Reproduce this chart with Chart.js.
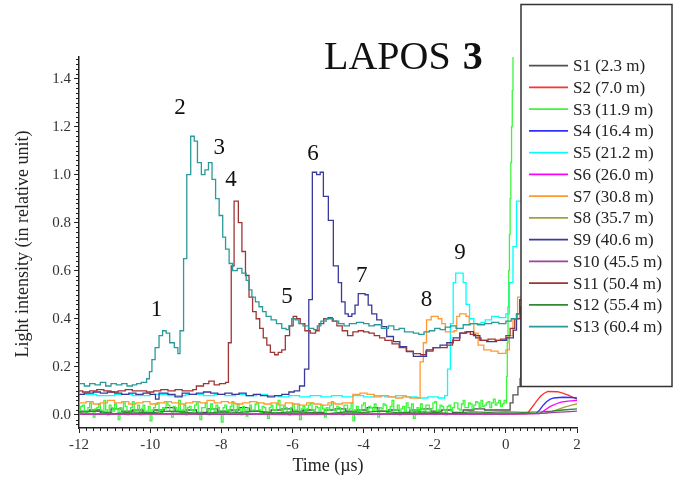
<!DOCTYPE html>
<html>
<head>
<meta charset="utf-8">
<script src="https://cdn.jsdelivr.net/npm/chart.js@4.4.1/dist/chart.umd.min.js"></script>
<style>
  html, body { margin: 0; padding: 0; background: #fff; }
  #wrap { width: 680px; height: 480px; }
</style>
</head>
<body>
<div id="wrap"><canvas id="chart" width="680" height="480"></canvas></div>
<script>
// Time axis (µs) and intensity axis (relative unit)
const xTicks = [-12, -10, -8, -6, -4, -2, 0, 2];
const yTicks = [0, 0.2, 0.4, 0.6, 0.8, 1.0, 1.2, 1.4];

const seriesNames = [
  'S1 (2.3 m)', 'S2 (7.0 m)', 'S3 (11.9 m)', 'S4 (16.4 m)', 'S5 (21.2 m)',
  'S6 (26.0 m)', 'S7 (30.8 m)', 'S8 (35.7 m)', 'S9 (40.6 m)', 'S10 (45.5 m)',
  'S11 (50.4 m)', 'S12 (55.4 m)', 'S13 (60.4 m)'
];
const seriesColors = [
  '#505050', '#ff3030', '#3cf53c', '#3030ff', '#00ffff', '#ff00ff', '#ff9933',
  '#a0a040', '#3a3a9c', '#a040a0', '#a03535', '#338833', '#2a9a9a'
];

// [time, intensity] pairs
const s1 = [[-12,0.015],[-11.7,0.02],[-11.4,0.01],[-11.1,0.025],[-10.8,0.015],[-10.5,0.02],[-10.2,0.01],[-9.9,0.02],
  [-9.6,0.03],[-9.3,0.015],[-9.0,0.02],[-8.7,0.01],[-8.4,0.025],[-8.1,0.015],[-7.8,0.02],[-7.5,0.03],[-7.2,0.015],
  [-6.9,0.01],[-6.6,0.02],[-6.3,0.025],[-6.0,0.015],[-5.7,0.02],[-5.4,0.01],[-5.1,0.02],[-4.8,0.025],[-4.5,0.015],
  [-4.2,0.02],[-3.9,0.03],[-3.6,0.015],[-3.3,0.02],[-3.0,0.01],[-2.7,0.02],[-2.4,0.025],[-2.1,0.015],[-1.8,0.02],
  [-1.5,0.01],[-1.2,0.02],[-0.9,0.025],[-0.6,0.02],[-0.3,0.02],[0.0,0.02],[0.12,0.05],[0.2,0.083],[0.34,0.117],
  [0.4,0.15],[0.42,0.45],[1.0,0.55],[2.0,0.5]];
const s2 = [[-12,0.003],[-6,0.004],[0,0.003],[0.6,0.005],[0.68,0.02],[0.78,0.04],[0.88,0.06],[0.98,0.078],
  [1.08,0.09],[1.18,0.097],[1.45,0.096],[1.6,0.09],[1.75,0.082],[1.9,0.072],[2.0,0.065]];
const s3 = [
  [-12.0,0.02],[-11.95,0.035],[-11.9,0.04],[-11.85,0.015],[-11.8,0.01],[-11.75,0.03],[-11.7,0.05],[-11.65,0.02],
  [-11.6,-0.01],[-11.55,0.025],[-11.5,0.03],[-11.45,0.045],[-11.4,0.02],[-11.35,0.01],[-11.3,0.06],[-11.25,0.02],
  [-11.2,0.0],[-11.15,0.04],[-11.1,0.03],[-11.05,0.015],[-11.0,0.045],[-10.95,0.025],[-10.9,-0.02],[-10.85,0.03],
  [-10.8,0.02],[-10.75,0.05],[-10.7,0.035],[-10.65,0.0],[-10.6,0.01],[-10.55,0.03],[-10.5,0.055],[-10.45,0.02],
  [-10.4,0.02],[-10.35,0.04],[-10.3,0.0],[-10.25,0.025],[-10.2,0.04],[-10.15,0.01],[-10.1,0.015],[-10.05,0.035],
  [-10.0,-0.025],[-9.95,0.02],[-9.9,0.03],[-9.85,0.045],[-9.8,0.05],[-9.75,0.02],[-9.7,0.01],[-9.65,0.03],
  [-9.6,0.025],[-9.55,0.05],[-9.5,0.04],[-9.45,0.015],[-9.4,-0.01],[-9.35,0.035],[-9.3,0.03],[-9.25,0.02],
  [-9.2,0.06],[-9.15,0.01],[-9.1,0.02],[-9.05,0.04],[-9.0,0.0],[-8.95,0.03],[-8.9,0.035],[-8.85,0.02],
  [-8.8,0.015],[-8.75,0.04],[-8.7,0.05],[-8.65,0.01],[-8.6,-0.02],[-8.55,0.03],[-8.5,0.03],[-8.45,0.05],
  [-8.4,0.02],[-8.35,0.0],[-8.3,0.045],[-8.25,0.025],[-8.2,0.01],[-8.15,0.04],[-8.1,0.03],[-8.05,0.015],
  [-8.0,-0.03],[-7.95,0.03],[-7.9,0.04],[-7.85,0.01],[-7.8,0.02],[-7.75,0.035],[-7.7,0.055],[-7.65,0.02],
  [-7.6,0.01],[-7.55,0.045],[-7.5,0.025],[-7.45,0.0],[-7.4,0.035],[-7.35,0.02],[-7.3,-0.005],[-7.25,0.03],
  [-7.2,0.04],[-7.15,0.015],[-7.1,0.02],[-7.05,0.045],[-7.0,0.05],[-6.95,0.02],[-6.9,0.01],[-6.85,0.035],
  [-6.8,0.03],[-6.75,0.01],[-6.7,-0.015],[-6.65,0.03],[-6.6,0.04],[-6.55,0.02],[-6.5,0.02],[-6.45,0.045],
  [-6.4,0.06],[-6.35,0.025],[-6.3,0.015],[-6.25,0.035],[-6.2,0.03],[-6.15,0.01],[-6.1,0.0],[-6.05,0.03],
  [-6.0,0.045],[-5.95,0.02],[-5.9,0.02],[-5.85,0.04],[-5.8,-0.02],[-5.75,0.025],[-5.7,0.035],[-5.65,0.01],
  [-5.6,0.025],[-5.55,0.04],[-5.5,0.05],[-5.45,0.02],[-5.4,0.01],[-5.35,0.035],[-5.3,0.03],[-5.25,0.015],
  [-5.2,0.04],[-5.15,0.025],[-5.1,-0.01],[-5.05,0.03],[-5.0,0.02],[-4.95,0.04],[-4.9,0.055],[-4.85,0.02],
  [-4.8,0.015],[-4.75,0.035],[-4.7,0.03],[-4.65,0.01],[-4.6,0.0],[-4.55,0.04],[-4.5,0.04],[-4.45,0.02],
  [-4.4,0.025],[-4.35,0.05],[-4.3,-0.025],[-4.25,0.02],[-4.2,0.035],[-4.15,0.01],[-4.1,0.02],[-4.05,0.04],
  [-4.0,0.05],[-3.95,0.025],[-3.9,0.01],[-3.85,0.035],[-3.8,0.03],[-3.75,0.015],[-3.7,0.045],[-3.65,0.02],
  [-3.6,-0.01],[-3.55,0.03],[-3.5,0.025],[-3.45,0.045],[-3.4,0.04],[-3.35,0.01],[-3.3,0.015],[-3.25,0.035],
  [-3.2,0.06],[-3.15,0.02],[-3.1,0.02],[-3.05,0.04],[-3.0,0.0],[-2.95,0.025],[-2.9,0.035],[-2.85,0.015],
  [-2.8,0.05],[-2.75,0.03],[-2.7,0.02],[-2.65,0.045],[-2.6,-0.015],[-2.55,0.02],[-2.5,0.03],[-2.45,0.01],
  [-2.4,0.045],[-2.35,0.025],[-2.3,0.01],[-2.25,0.04],[-2.2,0.04],[-2.15,0.02],[-2.1,0.025],[-2.05,0.05],
  [-2.0,0.055],[-1.95,0.015],[-1.9,0.02],[-1.85,0.04],[-1.8,0.035],[-1.75,0.02],[-1.7,0.0],[-1.65,0.035],
  [-1.6,0.04],[-1.55,0.015],[-1.5,0.03],[-1.45,0.05],[-1.4,0.05],[-1.35,0.025],[-1.3,0.02],[-1.25,0.045],
  [-1.2,0.06],[-1.15,0.03],[-1.1,0.03],[-1.05,0.05],[-1.0,0.045],[-0.95,0.025],[-0.9,0.04],[-0.85,0.055],
  [-0.8,0.05],[-0.75,0.03],[-0.7,0.06],[-0.65,0.035],[-0.6,0.04],[-0.55,0.05],[-0.5,0.055],[-0.45,0.03],
  [-0.4,0.05],[-0.35,0.065],[-0.3,0.04],[-0.25,0.05],[-0.2,0.06],[-0.15,0.035],[-0.1,0.045],[-0.05,0.06],
  [0.0,0.05],[0.02,0.16],[0.04,0.3],[0.06,0.45],[0.08,0.6],[0.1,0.75],[0.12,0.9],[0.14,1.05],[0.16,1.2],
  [0.18,1.35],[0.2,1.5],[0.8,2.0],[2.0,1.0]];
const s4 = [[-12,0.004],[-8,0.006],[-4,0.003],[0,0.005],[0.85,0.006],[0.95,0.02],[1.05,0.04],[1.15,0.055],
  [1.25,0.065],[1.35,0.07],[1.6,0.073],[1.85,0.072],[2.0,0.07]];
const s5 = [[-12,0.085],[-11.5,0.08],[-11,0.085],[-10.5,0.08],[-10,0.085],[-9.5,0.08],[-9,0.085],[-8.5,0.08],
  [-8.2,0.085],[-7.9,0.08],[-7.6,0.085],[-7.3,0.08],[-7.0,0.085],[-6.7,0.08],[-6.4,0.075],[-6.1,0.08],[-5.8,0.075],
  [-5.5,0.08],[-5.2,0.075],[-4.9,0.08],[-4.6,0.075],[-4.3,0.08],[-4.0,0.075],[-3.7,0.08],[-3.4,0.075],[-3.1,0.08],
  [-2.8,0.075],[-2.5,0.07],[-2.2,0.075],[-1.9,0.07],[-1.72,0.08],[-1.64,0.19],[-1.56,0.38],[-1.48,0.55],
  [-1.41,0.59],[-1.2,0.55],[-1.12,0.46],[-1.02,0.40],[-0.9,0.38],[-0.7,0.385],[-0.58,0.395],[-0.4,0.41],
  [-0.2,0.405],[0.0,0.42],[0.1,0.55],[0.2,0.70],[0.3,0.89],[0.45,0.95],[1.0,0.9],[2.0,0.8]];
const s6 = [[-12,0.002],[-9,0.004],[-6,0.001],[-3,0.003],[0,0.003],[0.95,0.005],[1.1,0.02],[1.25,0.035],
  [1.4,0.045],[1.55,0.053],[1.75,0.057],[2.0,0.06]];
const s7 = [[-12,0.05],[-11.8,0.055],[-11.6,0.045],[-11.4,0.05],[-11.2,0.06],[-11.0,0.05],[-10.8,0.055],
  [-10.6,0.045],[-10.4,0.05],[-10.2,0.055],[-10.0,0.045],[-9.8,0.05],[-9.6,0.055],[-9.4,0.05],[-9.2,0.045],
  [-9.0,0.05],[-8.8,0.055],[-8.6,0.05],[-8.4,0.06],[-8.2,0.05],[-8.0,0.055],[-7.8,0.05],[-7.6,0.045],[-7.4,0.05],
  [-7.2,0.055],[-7.0,0.05],[-6.8,0.045],[-6.6,0.05],[-6.4,0.04],[-6.2,0.05],[-6.0,0.045],[-5.8,0.04],[-5.6,0.05],
  [-5.4,0.045],[-5.2,0.04],[-5.0,0.05],[-4.8,0.045],[-4.6,0.05],[-4.4,0.05],[-4.3,0.085],[-4.1,0.09],[-3.9,0.085],
  [-3.7,0.075],[-3.5,0.08],[-3.3,0.075],[-3.1,0.07],[-2.9,0.075],[-2.7,0.07],[-2.5,0.07],[-2.41,0.22],[-2.32,0.30],
  [-2.23,0.395],[-2.1,0.41],[-1.9,0.40],[-1.8,0.38],[-1.7,0.345],[-1.45,0.35],[-1.38,0.41],[-1.3,0.42],
  [-1.12,0.41],[-1.03,0.38],[-0.9,0.34],[-0.78,0.29],[-0.62,0.27],[-0.42,0.265],[-0.22,0.256],[0.0,0.27],
  [0.1,0.33],[0.2,0.40],[0.33,0.49],[0.5,0.55],[1.0,0.5],[2.0,0.45]];
const s8 = [[-12,0.005],[-6,0.004],[0,0.005],[1.1,0.006],[1.25,0.012],[1.45,0.022],[1.65,0.032],[1.85,0.04],
  [2.0,0.045]];
const s9 = [[-12,0.085],[-11.85,0.09],[-11.6,0.095],[-11.4,0.09],[-11.2,0.095],[-11.0,0.09],[-10.8,0.085],
  [-10.6,0.09],[-10.4,0.085],[-10.2,0.09],[-10.0,0.085],[-9.85,0.065],[-9.75,0.09],[-9.5,0.085],[-9.3,0.075],
  [-9.1,0.09],[-8.9,0.085],[-8.7,0.09],[-8.5,0.095],[-8.3,0.09],[-8.1,0.085],[-7.9,0.09],[-7.7,0.085],[-7.5,0.09],
  [-7.3,0.08],[-7.1,0.085],[-6.9,0.08],[-6.7,0.075],[-6.5,0.08],[-6.3,0.085],[-6.1,0.095],[-5.95,0.1],[-5.8,0.12],
  [-5.66,0.19],[-5.54,0.48],[-5.44,1.01],[-5.32,1.0],[-5.22,1.01],[-5.13,0.91],[-4.99,0.81],[-4.85,0.62],
  [-4.71,0.55],[-4.62,0.47],[-4.52,0.42],[-4.43,0.41],[-4.33,0.42],[-4.24,0.457],[-4.15,0.505],[-3.96,0.50],
  [-3.87,0.457],[-3.77,0.42],[-3.63,0.395],[-3.49,0.367],[-3.35,0.326],[-3.16,0.305],[-2.98,0.284],[-2.79,0.263],
  [-2.6,0.243],[-2.41,0.243],[-2.23,0.27],[-2.04,0.28],[-1.85,0.29],[-1.66,0.30],[-1.48,0.32],[-1.29,0.34],
  [-1.1,0.346],[-0.91,0.33],[-0.73,0.31],[-0.54,0.305],[-0.26,0.31],[0.02,0.32],[0.21,0.353],[0.3,0.42],
  [0.39,0.48],[0.6,0.5],[1.2,0.45],[2.0,0.4]];
const s10 = [[-12,0.003],[-10,0.005],[-8,0.002],[-6,0.004],[-4,0.003],[-2,0.005],[0,0.004],[1.0,0.006],
  [1.4,0.01],[1.8,0.013],[2.0,0.015]];
const s11 = [[-12,0.1],[-11.9,0.095],[-11.7,0.1],[-11.5,0.105],[-11.3,0.1],[-11.1,0.095],[-10.9,0.1],[-10.7,0.105],
  [-10.5,0.1],[-10.3,0.1],[-10.1,0.095],[-9.9,0.1],[-9.7,0.105],[-9.5,0.1],[-9.3,0.105],[-9.1,0.1],[-8.8,0.105],
  [-8.7,0.12],[-8.5,0.13],[-8.35,0.14],[-8.2,0.125],[-8.05,0.13],[-7.88,0.135],[-7.8,0.3],[-7.72,0.62],
  [-7.64,0.89],[-7.52,0.80],[-7.42,0.68],[-7.32,0.58],[-7.22,0.49],[-7.12,0.43],[-7.02,0.40],[-6.92,0.36],
  [-6.82,0.32],[-6.72,0.29],[-6.62,0.26],[-6.5,0.25],[-6.4,0.26],[-6.3,0.27],[-6.2,0.33],[-6.08,0.37],
  [-5.98,0.41],[-5.88,0.40],[-5.78,0.38],[-5.65,0.35],[-5.5,0.34],[-5.35,0.35],[-5.25,0.38],[-5.12,0.40],
  [-5.0,0.405],[-4.88,0.39],[-4.75,0.37],[-4.6,0.35],[-4.45,0.33],[-4.3,0.345],[-4.15,0.35],[-4.0,0.345],
  [-3.85,0.34],[-3.7,0.33],[-3.55,0.32],[-3.4,0.31],[-3.2,0.295],[-3.0,0.28],[-2.8,0.265],[-2.6,0.255],
  [-2.4,0.25],[-2.25,0.265],[-2.05,0.28],[-1.85,0.28],[-1.65,0.29],[-1.5,0.31],[-1.3,0.34],[-1.15,0.345],
  [-1.0,0.335],[-0.85,0.32],[-0.7,0.31],[-0.5,0.315],[-0.3,0.31],[-0.15,0.315],[0.0,0.33],[0.12,0.36],
  [0.25,0.4],[0.4,0.45],[0.8,0.45],[2.0,0.4]];
const s12 = [[-12,0.01],[-11.5,0.015],[-11,0.005],[-10.5,0.012],[-10,0.008],[-9.5,0.015],[-9,0.01],[-8.5,0.005],
  [-8,0.012],[-7.5,0.01],[-7,0.015],[-6.5,0.008],[-6,0.012],[-5.5,0.01],[-5,0.005],[-4.5,0.012],[-4,0.01],
  [-3.5,0.015],[-3,0.008],[-2.5,0.012],[-2,0.01],[-1.5,0.005],[-1,0.012],[-0.5,0.01],[0,0.012],[0.5,0.01],
  [1.0,0.012],[1.3,0.015],[1.6,0.02],[2.0,0.025]];
const s13 = [[-12,0.13],[-11.85,0.12],[-11.7,0.13],[-11.55,0.125],[-11.4,0.135],[-11.25,0.12],[-11.1,0.13],
  [-10.95,0.125],[-10.8,0.13],[-10.65,0.12],[-10.5,0.125],[-10.38,0.13],[-10.25,0.135],[-10.1,0.15],[-10.02,0.18],
  [-9.95,0.23],[-9.86,0.28],[-9.75,0.33],[-9.65,0.35],[-9.55,0.34],[-9.45,0.30],[-9.32,0.28],[-9.22,0.255],
  [-9.16,0.35],[-9.06,0.65],[-8.97,1.0],[-8.86,1.16],[-8.76,1.14],[-8.67,1.05],[-8.56,1.0],[-8.46,1.02],
  [-8.36,1.05],[-8.26,0.98],[-8.16,0.90],[-8.06,0.83],[-7.96,0.74],[-7.88,0.69],[-7.78,0.63],[-7.68,0.6],
  [-7.55,0.61],[-7.42,0.59],[-7.3,0.56],[-7.22,0.52],[-7.14,0.49],[-7.04,0.47],[-6.94,0.45],[-6.84,0.43],
  [-6.74,0.41],[-6.6,0.395],[-6.45,0.38],[-6.3,0.36],[-6.18,0.355],[-6.1,0.37],[-6.02,0.40],[-5.92,0.395],
  [-5.82,0.38],[-5.7,0.37],[-5.55,0.36],[-5.4,0.355],[-5.3,0.37],[-5.2,0.39],[-5.05,0.40],[-4.85,0.39],
  [-4.7,0.38],[-4.55,0.37],[-4.4,0.38],[-4.2,0.385],[-4.0,0.38],[-3.85,0.37],[-3.7,0.375],[-3.5,0.36],
  [-3.3,0.37],[-3.15,0.355],[-3.0,0.36],[-2.85,0.345],[-2.6,0.34],[-2.45,0.335],[-2.3,0.345],[-2.15,0.35],
  [-2.0,0.36],[-1.85,0.355],[-1.7,0.365],[-1.55,0.37],[-1.4,0.36],[-1.2,0.375],[-1.0,0.38],[-0.8,0.375],
  [-0.6,0.38],[-0.4,0.385],[-0.2,0.38],[0.0,0.39],[0.15,0.40],[0.3,0.42],[0.45,0.5],[0.6,0.55],[0.8,0.5],
  [1.2,0.45],[1.6,0.42],[2.0,0.4]];

const allSeries = [s1, s2, s3, s4, s5, s6, s7, s8, s9, s10, s11, s12, s13];
// slow detectors are drawn as smooth curves, the rest as histogram steps
const steppedSeries = [true, false, true, false, true, false, true, false, true, false, true, false, true];

// numbered pulse annotations
const peakNames = ['1', '2', '3', '4', '5', '6', '7', '8', '9'];
const peakTimes = [-9.82, -9.16, -8.06, -7.73, -6.15, -5.42, -4.05, -2.23, -1.29];
const peakLevels = [0.437, 1.276, 1.11, 0.977, 0.49, 1.085, 0.58, 0.478, 0.674];

const SERIF = '"Liberation Serif", "Times New Roman", serif';

const datasets = allSeries.map((pts, i) => ({
  label: seriesNames[i],
  data: pts.map(p => ({ x: p[0], y: p[1] })),
  borderColor: seriesColors[i],
  backgroundColor: seriesColors[i],
  borderWidth: 1.3,
  pointRadius: 0,
  stepped: steppedSeries[i],
  tension: 0,
  order: 12 - i
}));

const overlayPlugin = {
  id: 'overlay',
  afterDraw(chart) {
    const { ctx, chartArea: area } = chart;
    const xs = chart.scales.x;
    const ys = chart.scales.y;
    ctx.save();

    // minor ticks
    ctx.strokeStyle = '#222';
    ctx.lineWidth = 1;
    ctx.beginPath();
    for (let i = 0; i <= 70; i++) {
      if (i % 10 === 0) continue;
      const px = Math.round(xs.getPixelForValue(-12 + i * 0.2)) + 0.5;
      ctx.moveTo(px, area.bottom);
      ctx.lineTo(px, area.bottom + 3);
    }
    for (let i = -2; i <= 74; i++) {
      if (i % 10 === 0) continue;
      const py = Math.round(ys.getPixelForValue(i * 0.02)) + 0.5;
      ctx.moveTo(area.left, py);
      ctx.lineTo(area.left - 3, py);
    }
    ctx.stroke();

    // peak numbers
    ctx.fillStyle = '#111';
    ctx.font = '23px ' + SERIF;
    ctx.textAlign = 'center';
    ctx.textBaseline = 'middle';
    peakNames.forEach((name, i) => {
      ctx.fillText(name, xs.getPixelForValue(peakTimes[i]), ys.getPixelForValue(peakLevels[i]));
    });

    // title
    ctx.textAlign = 'left';
    ctx.textBaseline = 'alphabetic';
    ctx.font = '40px ' + SERIF;
    ctx.fillText('LAPOS ', 324, 69);
    const w = ctx.measureText('LAPOS ').width;
    ctx.font = 'bold 40px ' + SERIF;
    ctx.fillText('3', 324 + w + 2, 69);

    // axis titles
    ctx.fillStyle = '#222';
    ctx.font = '18px ' + SERIF;
    ctx.textAlign = 'center';
    ctx.textBaseline = 'middle';
    ctx.fillText('Time (\u00b5s)', 328, 466);
    ctx.save();
    ctx.translate(23, 244);
    ctx.rotate(-Math.PI / 2);
    ctx.fillText('Light intensity (in relative unit)', 0, 0);
    ctx.restore();

    // legend box over the right part of the plot
    ctx.fillStyle = '#fff';
    ctx.fillRect(521, 4.5, 151, 382);
    ctx.strokeStyle = '#333';
    ctx.lineWidth = 1.5;
    ctx.strokeRect(521, 4.5, 151, 382);
    ctx.font = '17px ' + SERIF;
    ctx.textAlign = 'left';
    seriesNames.forEach((name, i) => {
      const ly = 65.7 + i * 21.75;
      ctx.strokeStyle = seriesColors[i];
      ctx.lineWidth = 1.8;
      ctx.beginPath();
      ctx.moveTo(529, ly);
      ctx.lineTo(568, ly);
      ctx.stroke();
      ctx.fillStyle = '#222';
      ctx.fillText(name, 573, ly + 1);
    });

    ctx.restore();
  }
};

new Chart(document.getElementById('chart'), {
  type: 'line',
  data: { datasets },
  options: {
    responsive: false,
    animation: false,
    devicePixelRatio: 1,
    layout: { padding: { left: 0, right: 103, top: 57, bottom: 0 } },
    plugins: {
      legend: { display: false },
      tooltip: { enabled: false },
      title: { display: false }
    },
    scales: {
      x: {
        type: 'linear',
        min: -12,
        max: 2,
        afterFit: (s) => { s.height = 52; },
        afterBuildTicks: (s) => { s.ticks = xTicks.map(v => ({ value: v })); },
        grid: { drawOnChartArea: false, tickLength: 5, color: '#222', tickWidth: 1 },
        border: { color: '#222', width: 1.5 },
        ticks: {
          font: { family: SERIF, size: 15 },
          color: '#333',
          padding: 3,
          maxRotation: 0,
          autoSkip: false,
          callback: (v) => String(v)
        }
      },
      y: {
        type: 'linear',
        min: -0.055,
        max: 1.49,
        afterFit: (s) => { s.width = 79; },
        afterBuildTicks: (s) => { s.ticks = yTicks.map(v => ({ value: v })); },
        grid: { drawOnChartArea: false, tickLength: 5, color: '#222', tickWidth: 1 },
        border: { color: '#222', width: 1.5 },
        ticks: {
          font: { family: SERIF, size: 15 },
          color: '#333',
          padding: 3,
          callback: (v) => v.toFixed(1)
        }
      }
    }
  },
  plugins: [overlayPlugin]
});
</script>
</body>
</html>
